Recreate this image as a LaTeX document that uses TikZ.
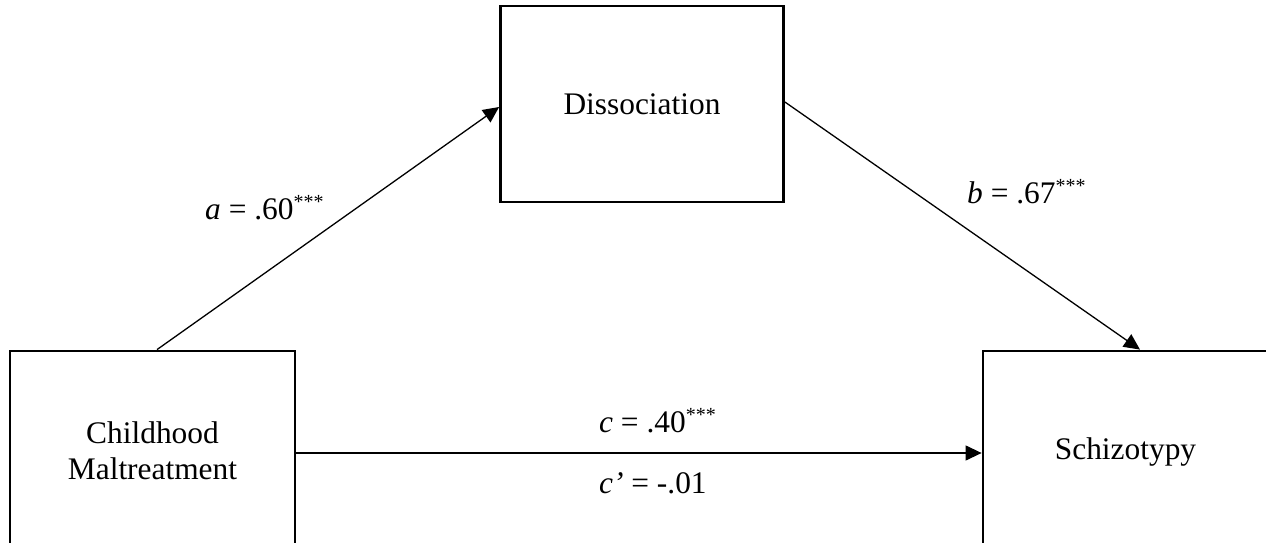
\documentclass[tikz,border=0pt]{standalone}
\usepackage{fontspec}
\setmainfont{Liberation Serif}
\usetikzlibrary{arrows.meta}
\newcommand{\starsig}{\raisebox{11pt}{\fontsize{20}{20}\selectfont ***}}
\begin{document}
\begin{tikzpicture}[x=1pt,y=-1pt,
  box/.style={draw, line width=2.8pt, minimum width=283pt, minimum height=196pt, inner sep=0pt, align=center, font=\fontsize{31.4}{36}\selectfont},
  lbl/.style={inner sep=0pt, anchor=base west, font=\fontsize{31.4}{36}\selectfont},
  conn/.style={line width=1.3pt, -{Triangle[length=16pt,width=15pt]}}]
\useasboundingbox (0,0) rectangle (1266,543);
\clip (0,0) rectangle (1266,543);
\node[box] (ds) at (642,104) {Dissociation};
\node[box, minimum width=285pt, minimum height=200pt] (cm) at (152.5,451) {Childhood\\Maltreatment};
\node[box, minimum width=285pt, minimum height=202pt] (sc) at (1125.5,452) {Schizotypy};
\draw[conn] ([xshift=4.5pt]cm.north) -- ([yshift=-3pt]ds.west);
\draw[conn] ([yshift=2pt]ds.east) -- ([xshift=14.5pt]sc.north);
\draw[conn] ([yshift=-2pt]cm.east) -- ([yshift=-2pt]cm.east -| sc.west);
\node[lbl] (la) at (205,219) {\textit{a} = .60\starsig};
\node[lbl] (lb) at (967,203) {\textit{b} = .67\starsig};
\node[lbl] (lc) at (599,432) {\textit{c} = .40\starsig};
\node[lbl] (lcp) at (599,493) {\textit{c’} = -.01};
\end{tikzpicture}
\end{document}
